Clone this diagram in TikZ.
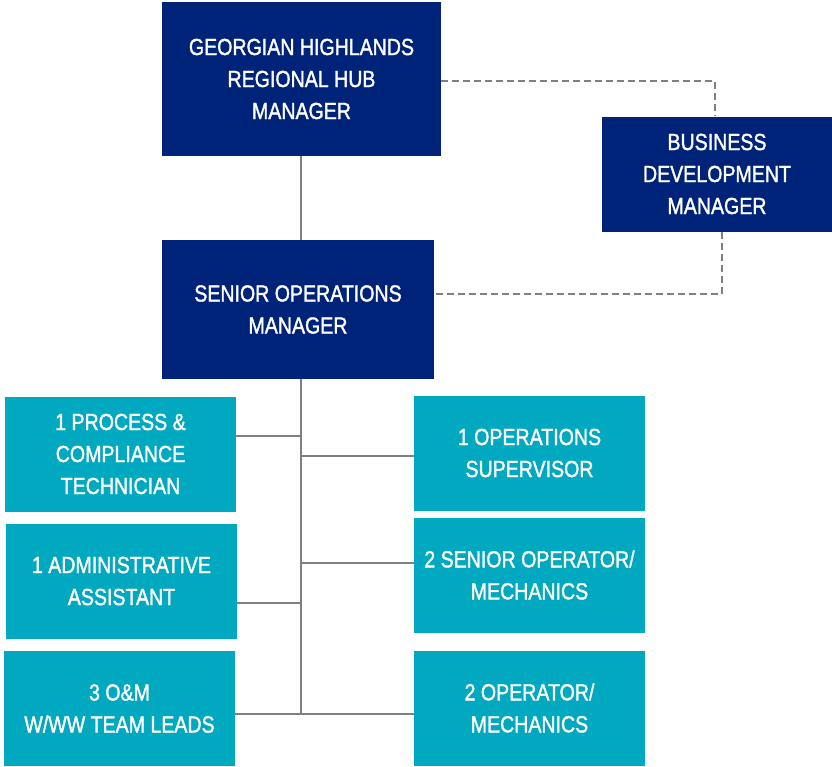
\documentclass[tikz,border=0pt]{standalone}
\usepackage{fontspec}
\setmainfont{Liberation Sans}[FakeStretch=0.84,FakeBold=1.4]
\usetikzlibrary{calc}
\definecolor{hubnavy}{RGB}{0,35,122}
\definecolor{crewteal}{RGB}{0,168,192}
\definecolor{linkgray}{RGB}{128,128,128}

\begin{document}
\begin{tikzpicture}[x=1pt,y=-1pt,
    every node/.style={text=white,align=center,inner sep=0pt,
      font=\fontsize{23.3}{32}\selectfont},
    leadbox/.style={fill=hubnavy,minimum height=#1},
    crewbox/.style={fill=crewteal,minimum width=231,minimum height=115},
    solidlink/.style={draw=linkgray,line width=2.6},
    dottedlink/.style={draw=linkgray,line width=2.6,dash pattern=on 7 off 4}]
    \useasboundingbox (0,0) rectangle (832,766);
    % managers
    \node[leadbox=154,minimum width=279] (hub) at (301.5,79) {GEORGIAN HIGHLANDS\\REGIONAL HUB\\MANAGER};
    \node[leadbox=115,minimum width=230] (bdm) at (717,174) {BUSINESS\\DEVELOPMENT\\MANAGER};
    \node[leadbox=139,minimum width=272] (som) at (298,309.5) {SENIOR OPERATIONS\\MANAGER};
    % left column
    \node[crewbox] (pct) at (120.5,454) {1 PROCESS \&\\COMPLIANCE\\TECHNICIAN};
    \node[crewbox] (adm) at (121.5,581) {1 ADMINISTRATIVE\\ASSISTANT};
    \node[crewbox] (oml) at (119.5,708.5) {3 O\&M\\W/WW TEAM LEADS};
    % right column
    \node[crewbox] (sup) at (529.5,453) {1 OPERATIONS\\SUPERVISOR};
    \node[crewbox] (sop) at (529.5,575) {2 SENIOR OPERATOR/\\MECHANICS};
    \node[crewbox] (opm) at (529.5,708) {2 OPERATOR/\\MECHANICS};
    % junctions on the trunk
    \coordinate (top) at (301,156);
    \coordinate (j1) at (301,436);
    \coordinate (j2) at (301,456);
    \coordinate (j3) at (301,563);
    \coordinate (j4) at (301,603);
    \coordinate (j5) at (301,714);
    \coordinate (bend1) at (715,81);
    \coordinate (bend2) at (722,294);
    % solid lines
    \draw[solidlink] (top) -- (top |- som.north);
    \draw[solidlink] (top |- som.south) -- (j5);
    \draw[solidlink] (pct.east |- j1) -- (j1);
    \draw[solidlink] (adm.east |- j4) -- (j4);
    \draw[solidlink] (oml.east |- j5) -- (j5);
    \draw[solidlink] (j2) -- (sup.west |- j2);
    \draw[solidlink] (j3) -- (sop.west |- j3);
    \draw[solidlink] (j5) -- (opm.west |- j5);
    % dashed lines to business development
    \draw[dottedlink] (hub.east |- bend1) -- (bend1) -- (bend1 |- bdm.north);
    \draw[dottedlink] (bend2 |- bdm.south) -- (bend2) -- (som.east |- bend2);
\end{tikzpicture}
\end{document}
